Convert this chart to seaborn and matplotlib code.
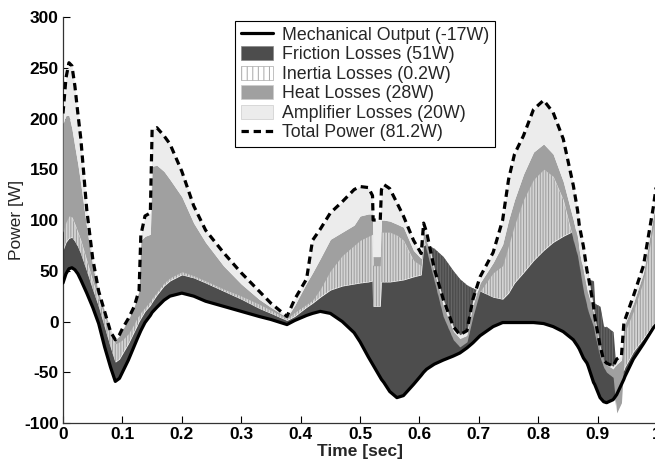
import numpy as np
import pandas as pd
import matplotlib
matplotlib.use("Agg")
import matplotlib.pyplot as plt
import seaborn as sns
from matplotlib.lines import Line2D
from matplotlib.patches import Patch

# Time [sec]
time = [0.000, 0.005, 0.010, 0.015, 0.020, 0.025, 0.030, 0.040, 0.050, 0.060,
        0.070, 0.080, 0.088, 0.095, 0.100, 0.110, 0.120, 0.125, 0.128, 0.131,
        0.138, 0.147, 0.150, 0.158, 0.170, 0.180, 0.200, 0.220, 0.240, 0.270,
        0.300, 0.330, 0.350, 0.377, 0.390, 0.410, 0.420, 0.433, 0.450, 0.470,
        0.490, 0.500, 0.514, 0.521, 0.522, 0.534, 0.536, 0.540, 0.550, 0.562,
        0.573, 0.590, 0.603, 0.607, 0.612, 0.625, 0.640, 0.657, 0.668, 0.680,
        0.690, 0.702, 0.724, 0.740, 0.750, 0.760, 0.775, 0.792, 0.809, 0.825,
        0.842, 0.859, 0.866, 0.869, 0.876, 0.882, 0.884, 0.893, 0.895, 0.904,
        0.910, 0.915, 0.926, 0.932, 0.940, 0.944, 0.946, 0.960, 0.977, 0.994,
        1.000]

# Mechanical output [W]
mechanical = [38, 47, 52, 53, 51, 47, 41, 28, 14, -2,
              -25, -45, -59, -56, -50, -38, -24, -17, -13, -9,
              -1, 6, 9, 14, 21, 25, 28, 25, 20, 15,
              10, 5, 2, -3, 1, 6, 8, 10, 8, 0,
              -11, -20, -35, -42, -43, -55, -57, -60, -69, -75,
              -73, -62, -53, -50, -47, -42, -38, -34, -31, -26,
              -21, -14, -5, -1, -1, -1, -1, -1, -2, -5,
              -10, -18, -24, -27, -36, -41, -44, -60, -62, -75,
              -79, -80, -77, -72, -62, -57, -54, -37, -22, -6,
              -2]

# Cumulative level after friction losses [W]
friction_top = [70, 78, 82, 83, 79, 74, 67, 50, 32, 15,
                -5, -25, -40, -37, -32, -22, -10, -4, 0, 3,
                10, 16, 19, 26, 35, 40, 46, 43, 38, 30,
                22, 13, 8, 1, 5, 14, 18, 24, 31, 35,
                37, 38, 39, 40, 15, 15, 39, 39, 39, 40,
                41, 44, 46, 75, 76, 72, 64, 50, 42, 36,
                33, 30, 24, 22, 28, 38, 48, 60, 70, 78,
                84, 89, 89, 60, 55, 55, 42, 40, 18, 15,
                -5, -5, -10, -55, -50, -48, -45, -30, -17, -3,
                0]

# Cumulative level after inertia losses [W]
inertia_top = [88, 98, 104, 103, 96, 88, 80, 60, 40, 22,
               5, -10, -22, -20, -18, -12, -2, 4, 6, 9,
               14, 20, 23, 29, 38, 43, 49, 45, 40, 32,
               25, 17, 11, 3, 9, 17, 21, 32, 50, 65,
               75, 80, 84, 86, 55, 55, 88, 88, 88, 85,
               80, 60, 55, 82, 70, 40, 5, -18, -25, -20,
               5, 30, 48, 55, 75, 95, 120, 140, 150, 143,
               120, 80, 65, 55, 30, 15, 10, -5, -12, -35,
               -45, -50, -55, -90, -80, -40, -10, 10, 40, 95,
               120]

# Cumulative level after heat losses [W]
heat_top = [195, 203, 203, 190, 172, 155, 135, 92, 55, 28,
            10, -8, -18, -14, -8, 2, 15, 25, 30, 80,
            84, 86, 153, 154, 148, 140, 123, 97, 78, 55,
            37, 22, 14, 4, 16, 38, 48, 62, 81, 88,
            95, 104, 106, 106, 64, 64, 100, 100, 99, 96,
            93, 70, 62, 90, 80, 48, 15, -10, -17, -14,
            15, 38, 58, 76, 100, 120, 145, 167, 175, 165,
            138, 100, 82, 70, 48, 30, 26, 8, 0, -28,
            -38, -43, -47, -42, -38, -5, -2, 18, 48, 105,
            130]

# Total power [W]
total_power = [205, 240, 255, 252, 232, 205, 180, 110, 62, 30,
               10, -10, -18, -13, -7, 3, 15, 25, 30, 85,
               104, 107, 189, 191, 183, 175, 148, 114, 90, 68,
               48, 30, 18, 5, 22, 42, 80, 91, 107, 118,
               130, 133, 132, 124, 100, 100, 130, 135, 131, 117,
               104, 80, 67, 97, 88, 52, 22, -5, -13, -9,
               22, 44, 68, 100, 140, 165, 183, 209, 218, 206,
               180, 134, 110, 95, 74, 50, 45, 15, 5, -24,
               -38, -41, -44, -37, -34, -2, 2, 25, 55, 114,
               140]

legend_labels = ["Mechanical Output (-17W)", "Friction Losses (51W)",
                 "Inertia Losses (0.2W)", "Heat Losses (28W)",
                 "Amplifier Losses (20W)", "Total Power (81.2W)"]
x_ticks = [0, 0.1, 0.2, 0.3, 0.4, 0.5, 0.6, 0.7, 0.8, 0.9, 1.0]
x_tick_labels = ["0", "0.1", "0.2", "0.3", "0.4", "0.5", "0.6", "0.7", "0.8", "0.9", "1"]
y_ticks = [-100, -50, 0, 50, 100, 150, 200, 250, 300]

sns.set_theme(style="white")
plt.rcParams["font.family"] = ["Liberation Sans", "DejaVu Sans"]
plt.rcParams["hatch.linewidth"] = 0.7

df = pd.DataFrame({"t": time, "mech": mechanical, "fr": friction_top,
                   "in": inertia_top, "heat": heat_top, "total": total_power})

fig = plt.figure(figsize=(6.55, 4.65), dpi=100)
ax = fig.add_axes([0.0962, 0.0903, 0.907, 0.873])

c_fric = "#4d4d4d"
c_heat = "#a0a0a0"
c_amp = "#ececec"
c_in_face = "#d4d4d4"
c_in_hatch = "#9a9a9a"

t = df["t"].values
ax.fill_between(t, df["mech"], df["fr"], color=c_fric, lw=0, zorder=1)
pos = df["in"].values >= df["fr"].values
ax.fill_between(t, df["fr"], df["in"], where=pos, interpolate=True,
                facecolor=c_in_face, edgecolor=c_in_hatch, hatch="||||||", lw=0, zorder=2)
ax.fill_between(t, df["fr"], df["in"], where=~pos, interpolate=True,
                facecolor="none", edgecolor="#6a6a6a", hatch="||||||", lw=0, zorder=2)
ax.fill_between(t, df["in"], df["heat"], color=c_heat, lw=0, zorder=3)
ax.fill_between(t, df["heat"], df["total"], color=c_amp, lw=0, zorder=4)

sns.lineplot(data=df, x="t", y="mech", color="black", lw=2.3, ax=ax,
             estimator=None, sort=False, zorder=6)
sns.lineplot(data=df, x="t", y="total", color="black", lw=2.3, ax=ax,
             estimator=None, sort=False, zorder=7)
ax.lines[-1].set_dashes([2.3, 1.5])
ax.lines[-1].set_dash_capstyle("butt")

ax.set_xlim(0, 1)
ax.set_ylim(-100, 300)
ax.set_xticks(x_ticks)
ax.set_xticklabels(x_tick_labels, fontsize=12.5, fontweight="bold")
ax.set_yticks(y_ticks)
ax.set_yticklabels([str(v) for v in y_ticks], fontsize=12.5, fontweight="bold")
ax.tick_params(direction="in", length=5, width=0.8, colors="black", pad=3,
               bottom=True, left=True)
for s in ["top", "right"]:
    ax.spines[s].set_visible(False)
for s in ["left", "bottom"]:
    ax.spines[s].set_color("#333333")
    ax.spines[s].set_linewidth(0.9)
ax.set_xlabel("Time [sec]", fontsize=12.5, fontweight="bold", labelpad=1)
ax.set_ylabel("Power [W]", fontsize=12.5, labelpad=0)

handles = [
    Line2D([0], [0], color="black", lw=2.3),
    Patch(facecolor=c_fric, edgecolor="#888888", lw=0.5),
    Patch(facecolor="white", edgecolor="#a8a8a8", hatch="|||", lw=0.5),
    Patch(facecolor=c_heat, edgecolor="#cccccc", lw=0.5),
    Patch(facecolor=c_amp, edgecolor="#cccccc", lw=0.5),
    Line2D([0], [0], color="black", lw=2.3, dashes=[2.3, 1.5]),
]
leg = ax.legend(handles, legend_labels, loc="upper left", bbox_to_anchor=(0.29, 0.99),
                borderaxespad=0, fontsize=12.8, frameon=True, fancybox=False,
                framealpha=1, edgecolor="black", handlelength=1.8, handleheight=0.85,
                labelspacing=0.13, borderpad=0.3, handletextpad=0.55)
leg.get_frame().set_linewidth(0.8)
leg.set_zorder(10)

fig.savefig("out.png", dpi=100)
